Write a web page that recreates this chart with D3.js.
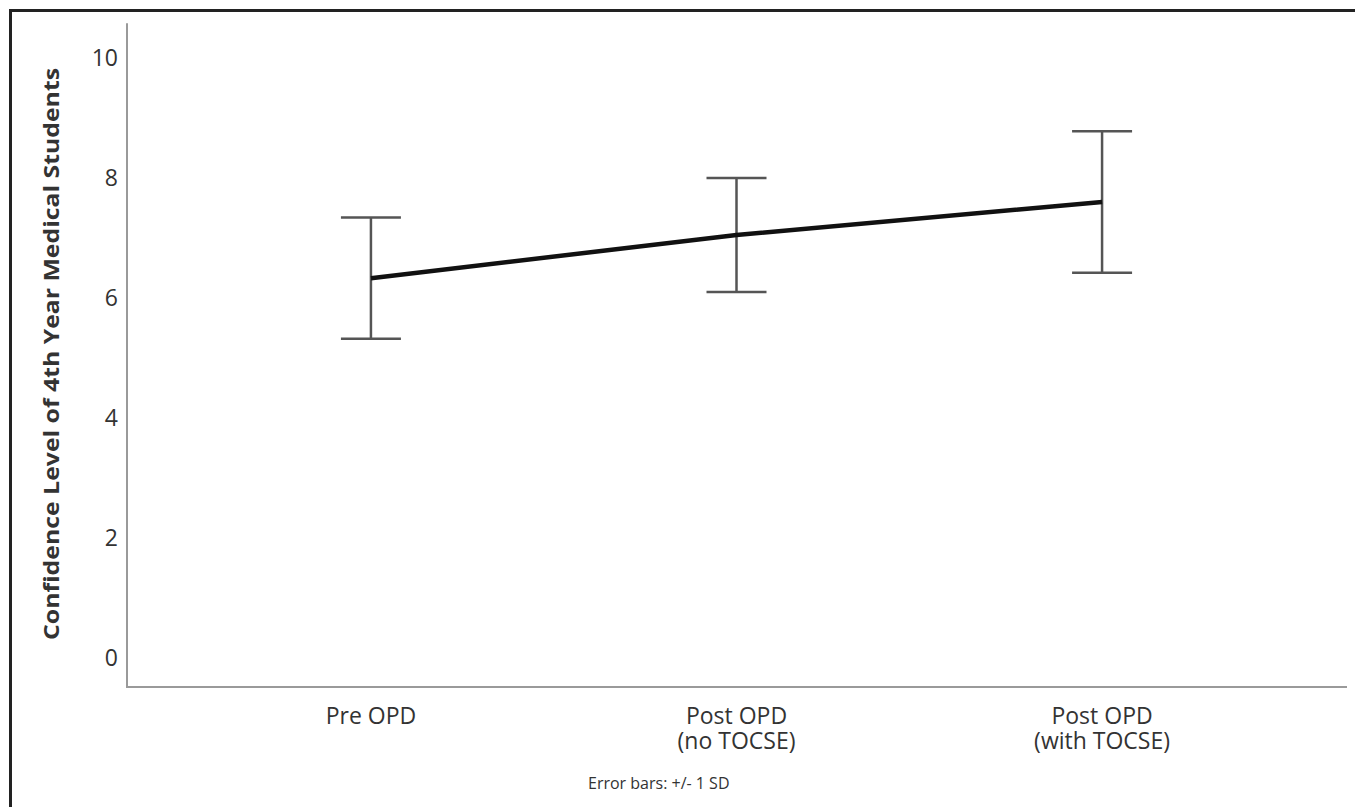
<!DOCTYPE html>
<html>
<head>
<meta charset="utf-8">
<script src="https://cdn.jsdelivr.net/npm/d3@7"></script>
<style>
  body { margin: 0; background: #fff; }
  svg { display: block; font-family: "Open Sans", "DejaVu Sans", sans-serif; }
</style>
</head>
<body>
<svg id="chart" width="1355" height="807"></svg>
<script>
// Data
const groups = ["Pre OPD", "Post OPD\n(no TOCSE)", "Post OPD\n(with TOCSE)"];
const means = [6.33, 7.05, 7.6];
const sds = [1.01, 0.95, 1.18];
const yTicks = [0, 2, 4, 6, 8, 10];

const svg = d3.select("#chart");

// Frame around the figure (left and top edges visible)
svg.append("path")
    .attr("d", `M10.5,807 V10.5 H1355`)
    .attr("fill", "none")
    .attr("stroke", "#222")
    .attr("stroke-width", 3);

const x = d3.scalePoint()
    .domain(groups)
    .range([126, 1347])
    .padding(0.67);

const y = d3.scaleLinear()
    .domain([0, 10])
    .range([658, 58]);

const yTop = y(10.58), yBottom = 687;

// Axes lines
const axisG = svg.append("g");
axisG.append("line")
    .attr("x1", 127).attr("x2", 127)
    .attr("y1", yTop).attr("y2", yBottom)
    .attr("stroke", "#9a9a9a").attr("stroke-width", 2);
axisG.append("line")
    .attr("x1", 126).attr("x2", 1347)
    .attr("y1", yBottom).attr("y2", yBottom)
    .attr("stroke", "#9a9a9a").attr("stroke-width", 2);

// Y tick labels (no tick marks)
svg.append("g")
    .selectAll("text")
    .data(yTicks)
    .join("text")
    .attr("x", 118)
    .attr("y", d => y(d))
    .attr("dy", "0.35em")
    .attr("text-anchor", "end")
    .attr("font-size", 23)
    .attr("fill", "#333")
    .text(d => d);

// Category labels, one text per line
const catG = svg.append("g");
groups.forEach(g => {
    g.split("\n").forEach((l, i) => {
        catG.append("text")
            .attr("x", x(g))
            .attr("y", 724 + i * 25)
            .attr("text-anchor", "middle")
            .attr("font-size", 23)
            .attr("fill", "#333")
            .text(l);
    });
});

// Y axis title
svg.append("text")
    .attr("transform", `translate(59,354) rotate(-90)`)
    .attr("text-anchor", "middle")
    .attr("font-size", 21)
    .attr("font-weight", "bold")
    .attr("fill", "#333")
    .attr("textLength", 572)
    .attr("lengthAdjust", "spacingAndGlyphs")
    .text("Confidence Level of 4th Year Medical Students");

// Error bars
const capHalf = 30;
const eb = svg.append("g")
    .attr("stroke", "#555")
    .attr("stroke-width", 2.5)
    .attr("fill", "none");
groups.forEach((g, i) => {
    const cx = x(g);
    const hi = y(means[i] + sds[i]), lo = y(means[i] - sds[i]);
    eb.append("line").attr("x1", cx).attr("x2", cx).attr("y1", hi).attr("y2", lo);
    eb.append("line").attr("x1", cx - capHalf).attr("x2", cx + capHalf).attr("y1", hi).attr("y2", hi);
    eb.append("line").attr("x1", cx - capHalf).attr("x2", cx + capHalf).attr("y1", lo).attr("y2", lo);
});

// Mean line
const line = d3.line()
    .x((d, i) => x(groups[i]))
    .y(d => y(d));
svg.append("path")
    .datum(means)
    .attr("d", line)
    .attr("fill", "none")
    .attr("stroke", "#111")
    .attr("stroke-width", 4.5);

// Footnote
svg.append("text")
    .attr("x", 588)
    .attr("y", 789)
    .attr("font-size", 16)
    .attr("fill", "#333")
    .text("Error bars: +/- 1 SD");
</script>
</body>
</html>
